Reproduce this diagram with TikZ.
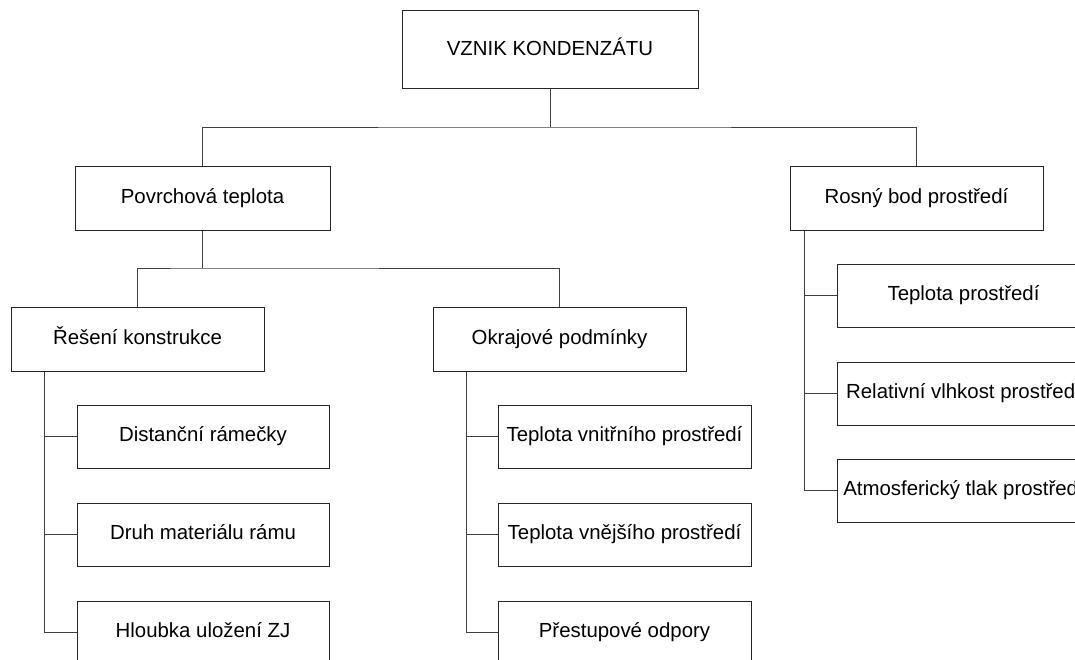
\documentclass[tikz,border=0pt]{standalone}
\usepackage{fontspec}
\setmainfont{Liberation Sans}
\begin{document}
\begin{tikzpicture}[x=1pt,y=-1pt,
  box/.style={draw=black!85, line width=1pt, fill=white, inner sep=0pt,
    minimum width=253pt, minimum height=63pt,
    font=\fontsize{20.4pt}{24pt}\selectfont, text height=13pt, text depth=3pt},
  conn/.style={draw=black!75, line width=1pt}]
\useasboundingbox (0,0) rectangle (1075,659);
\clip (0,0) rectangle (1075,659);
\fill[white] (0,0) rectangle (1075,659);
% nodes
\node[box, minimum width=296pt, minimum height=78pt, text height=14pt, text depth=2pt] (vz) at (550,49) {VZNIK KONDENZÁTU};
\node[box, minimum width=255pt, minimum height=64pt] (pov) at (202.5,198) {Povrchová teplota};
\node[box, minimum height=64pt] (ros) at (916.5,198) {Rosný bod prostředí};
\node[box, minimum height=64pt] (res) at (137.5,339) {Řešení konstrukce};
\node[box, minimum height=64pt] (okr) at (559.5,339) {Okrajové podmínky};
\node[box, minimum width=252pt] (dis) at (203,436.5) {Distanční rámečky};
\node[box, minimum width=252pt] (dru) at (203,534.5) {Druh materiálu rámu};
\node[box, minimum width=252pt] (hlo) at (203,632.5) {Hloubka uložení ZJ};
\node[box] (tvn) at (624.5,436.5) {Teplota vnitřního prostředí};
\node[box] (tve) at (624.5,534.5) {Teplota vnějšího prostředí};
\node[box] (pre) at (624.5,632.5) {Přestupové odpory};
\node[box] (tpr) at (963.5,295.5) {Teplota prostředí};
\node[box] (rel) at (963.5,393.5) {Relativní vlhkost prostředí};
\node[box] (atm) at (963.5,490.5) {Atmosferický tlak prostředí};
% junction coordinates
\coordinate (b1) at (vz.south |- 0,127);
\coordinate (b2) at (pov.south |- 0,268);
\coordinate (s1) at ([xshift=34pt]res.south west);
\coordinate (s2) at ([xshift=34pt]okr.south west);
\coordinate (s3) at ([xshift=15pt]ros.south west);
% connectors
\draw[conn] (vz.south) -- (b1);
\draw[conn] (pov.north) |- (b1) -| (ros.north);
\draw[conn] (pov.south) -- (b2);
\draw[conn] (res.north) |- (b2) -| (okr.north);
\draw[conn] (s1) |- (hlo.west);
\draw[conn] (dis.west) -- (dis.west -| s1);
\draw[conn] (dru.west) -- (dru.west -| s1);
\draw[conn] (s2) |- (pre.west);
\draw[conn] (tvn.west) -- (tvn.west -| s2);
\draw[conn] (tve.west) -- (tve.west -| s2);
\draw[conn] (s3) |- (atm.west);
\draw[conn] (tpr.west) -- (tpr.west -| s3);
\draw[conn] (rel.west) -- (rel.west -| s3);
\end{tikzpicture}
\end{document}
